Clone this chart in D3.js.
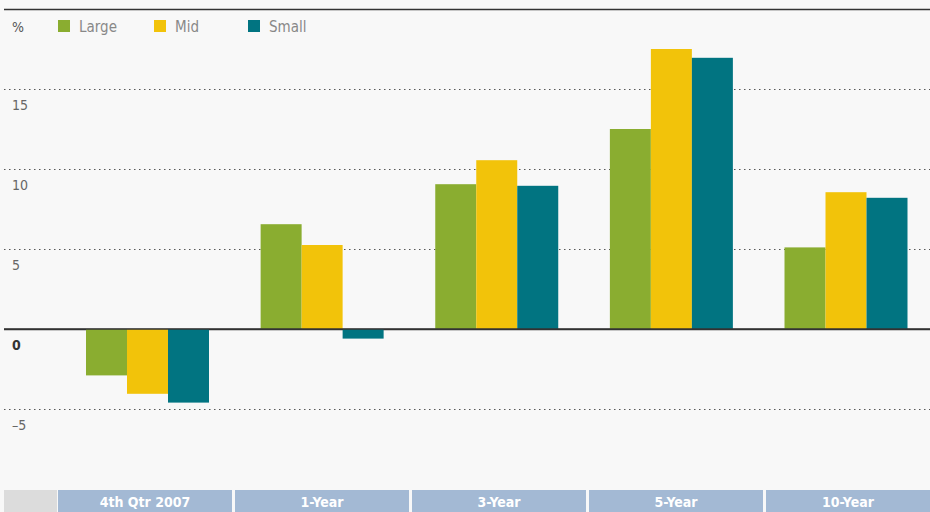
<!DOCTYPE html>
<html>
<head>
<meta charset="utf-8">
<script src="https://cdn.jsdelivr.net/npm/d3@7"></script>
<style>
  body { margin: 0; background: #f8f8f8; }
  svg { display: block; }
  text { font-family: "Liberation Sans Narrow", "DejaVu Sans Condensed", "Roboto", sans-serif; }
</style>
</head>
<body>
<svg id="chart"></svg>
<script>
const width = 930;
const height = 512;

const categories = ['4th Qtr 2007', '1-Year', '3-Year', '5-Year', '10-Year'];
const seriesNames = ['Large', 'Mid', 'Small'];
const large = [-2.9, 6.55, 9.05, 12.5, 5.1];
const mid = [-4.05, 5.25, 10.55, 17.5, 8.55];
const small = [-4.6, -0.6, 8.95, 16.95, 8.2];
const yTicks = [-5, 0, 5, 10, 15];
const colors = ['#8aad30', '#f2c30a', '#017481'];

const svg = d3.select('#chart')
            .attr('width', width)
            .attr('height', height);

svg.append('rect').attr('width', width).attr('height', height).attr('fill', '#f8f8f8');

const y = d3.scaleLinear().domain([-5, 15]).range([409, 89]);
const x = d3.scalePoint().domain(categories).range([147.5, 846]);
const xSub = d3.scaleBand().domain(seriesNames).range([-61.5, 61.5]);

// top rule
svg.append('line')
    .attr('x1', 4).attr('x2', width)
    .attr('y1', 9.5).attr('y2', 9.5)
    .attr('stroke', '#333').attr('stroke-width', 1.5);

// grid + tick labels via axis
const yAxis = svg.append('g')
    .attr('transform', 'translate(4,0)')
    .call(d3.axisRight(y).tickValues(yTicks).tickSize(width - 4).tickFormat(d => d < 0 ? '\u2013' + Math.abs(d) : d));
yAxis.select('.domain').remove();
yAxis.selectAll('.tick line')
    .attr('stroke', d => d === 0 ? '#333' : '#555')
    .attr('stroke-width', d => d === 0 ? 1.5 : 1)
    .attr('stroke-dasharray', d => d === 0 ? null : '1.5,3.5');
yAxis.selectAll('.tick text')
    .attr('x', 8).attr('dy', 20)
    .attr('fill', d => d === 0 ? '#333' : '#666')
    .style('font-size', '14px')
    .style('font-weight', d => d === 0 ? 'bold' : 'normal');

// bars
const rows = categories.map((c, i) => ({cat: c, values: [large[i], mid[i], small[i]]}));
const groups = svg.append('g').selectAll('g')
    .data(rows)
    .enter()
    .append('g')
    .attr('transform', d => `translate(${x(d.cat)},0)`);
groups.selectAll('rect')
    .data(d => d.values.map((v, j) => ({name: seriesNames[j], v: v, j: j})))
    .enter()
    .append('rect')
    .attr('x', d => xSub(d.name))
    .attr('width', xSub.bandwidth())
    .attr('y', d => y(Math.max(0, d.v)))
    .attr('height', d => Math.abs(y(d.v) - y(0)))
    .attr('fill', d => colors[d.j]);

// redraw zero line on top
svg.append('line')
    .attr('x1', 4).attr('x2', width)
    .attr('y1', y(0)).attr('y2', y(0))
    .attr('stroke', '#333').attr('stroke-width', 1.5);

// legend
svg.append('text').attr('x', 12).attr('y', 32).text('%')
    .attr('fill', '#555').style('font-size', '14px');
const legendX = [58, 154, 248];
const legend = svg.append('g').selectAll('g')
    .data(seriesNames)
    .enter()
    .append('g')
    .attr('transform', (d, i) => `translate(${legendX[i]},20)`);
legend.append('rect').attr('width', 12).attr('height', 12).attr('fill', (d, i) => colors[i]);
legend.append('text').attr('x', 21).attr('y', 12).text(d => d)
    .attr('fill', '#888').style('font-size', '15px');

// category band at bottom
const bandY = 490;
svg.append('rect').attr('x', 4).attr('y', bandY).attr('width', 53).attr('height', height - bandY).attr('fill', '#dcdcdc');
const cells = svg.append('g').selectAll('g')
    .data(categories)
    .enter()
    .append('g');
cells.append('rect')
    .attr('x', (d, i) => 58 + i * 177)
    .attr('y', bandY)
    .attr('width', (d, i) => i === 4 ? width - (58 + i * 177) : 174)
    .attr('height', height - bandY)
    .attr('fill', '#a3b9d4');
cells.append('text')
    .attr('x', (d, i) => 58 + i * 177 + (i === 4 ? (width - (58 + i * 177)) / 2 : 87))
    .attr('y', bandY + 17)
    .attr('text-anchor', 'middle')
    .attr('fill', '#fff')
    .style('font-size', '14px')
    .style('font-weight', 'bold')
    .text(d => d);
</script>
</body>
</html>
